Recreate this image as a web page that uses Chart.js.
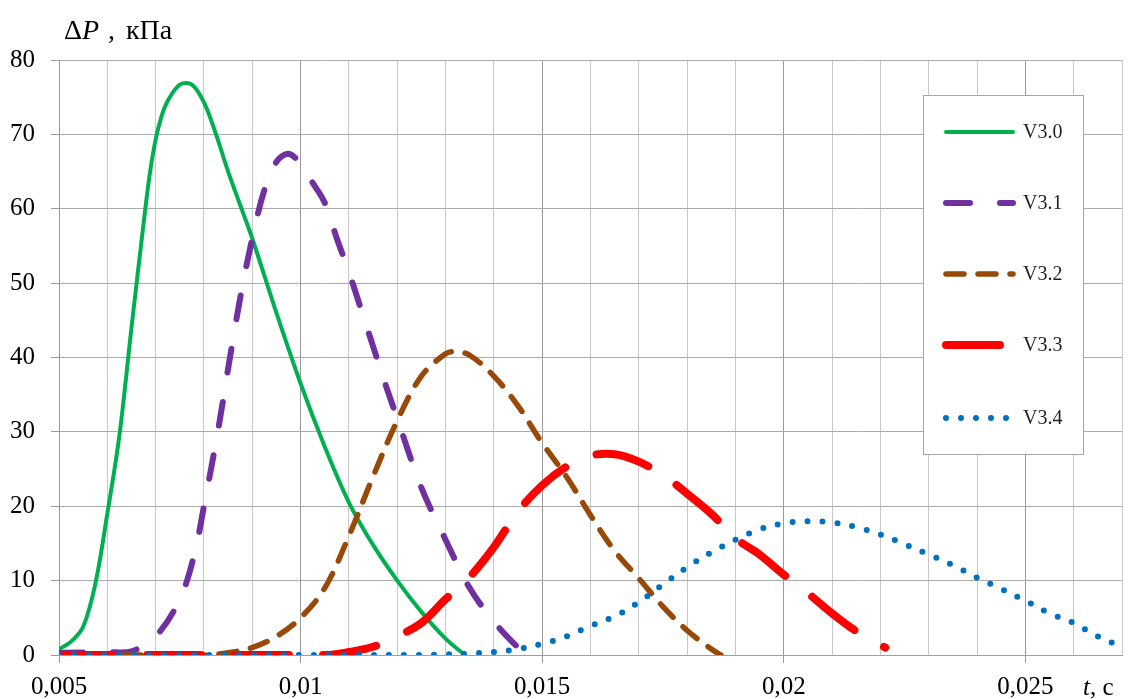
<!DOCTYPE html>
<html>
<head>
<meta charset="utf-8">
<title>ΔP(t)</title>
<script src="https://cdn.jsdelivr.net/npm/chart.js@4.4.1/dist/chart.umd.min.js"></script>
<style>
    html, body { margin: 0; padding: 0; background: #ffffff; }
    #wrap { width: 1131px; height: 699px; }
</style>
</head>
<body>
<div id="wrap"><canvas id="pressure-chart" width="1131" height="699"></canvas></div>
<script>
// ---- Data: pressure pulse ΔP (kPa) over time t (s) ----
const seriesNames = ['V3.0', 'V3.1', 'V3.2', 'V3.3', 'V3.4'];

const v30Time = [0.005, 0.00525, 0.0055, 0.00575, 0.006, 0.00625, 0.0065, 0.00675, 0.006875, 0.007, 0.007125, 0.00725, 0.0075, 0.00775, 0.008, 0.00825, 0.0085, 0.00875, 0.009, 0.0095, 0.01, 0.0105, 0.011, 0.0115, 0.012, 0.0125, 0.013, 0.0134];
const v30Press = [0.8, 1.8, 3.8, 9.5, 19, 29.5, 44, 58, 64.5, 69.3, 72.5, 74.5, 76.7, 76.7, 74.3, 70, 65, 60.5, 56, 46, 36.5, 28, 20.5, 14.8, 10, 5.8, 2.2, 0];

const v31Time = [0.005, 0.006, 0.0065, 0.007, 0.0075, 0.0078, 0.008, 0.0083, 0.0085, 0.00875, 0.009, 0.00925, 0.0095, 0.00975, 0.01, 0.01025, 0.0105, 0.01075, 0.011, 0.01125, 0.0115, 0.01175, 0.012, 0.0125, 0.013, 0.0135, 0.014, 0.0145, 0.0147];
const v31Press = [0.3, 0.4, 0.5, 2.5, 7.5, 13.5, 20, 30.5, 38.5, 48, 56, 62.5, 66.3, 67.4, 66, 63.5, 60.8, 56, 51.5, 46.5, 41.5, 36.5, 31.8, 22.5, 15.5, 9, 4.5, 1, 0];

const v32Time = [0.005, 0.008, 0.0085, 0.009, 0.0095, 0.01, 0.0105, 0.011, 0.0115, 0.012, 0.0125, 0.013, 0.0132, 0.0135, 0.014, 0.0145, 0.015, 0.0155, 0.016, 0.0165, 0.017, 0.0175, 0.018, 0.0185, 0.0187];
const v32Press = [0, 0, 0.3, 1, 2.5, 5, 9, 16, 24, 31.5, 37.5, 40.5, 40.8, 40.3, 37.5, 33.5, 28.5, 24, 18.8, 14, 10.3, 6.5, 3.3, 0.8, 0];

const v33Time = [0.005, 0.0105, 0.011, 0.0115, 0.012, 0.0125, 0.013, 0.0135, 0.014, 0.0145, 0.015, 0.0155, 0.016, 0.0165, 0.017, 0.0175, 0.018, 0.0185, 0.019, 0.0195, 0.02, 0.0205, 0.021, 0.0215, 0.0221];
const v33Press = [0, 0, 0.4, 1.1, 2.5, 4.3, 7.5, 10.5, 14.5, 19.3, 22.8, 25.3, 26.8, 27, 26, 24.2, 21.7, 19, 15.7, 13.5, 10.8, 8.3, 5.6, 3.2, 1.0];

const v34Time = [0.005, 0.0125, 0.013, 0.0135, 0.014, 0.0145, 0.015, 0.0155, 0.016, 0.0165, 0.017, 0.0175, 0.018, 0.0185, 0.019, 0.0195, 0.02, 0.0205, 0.021, 0.0215, 0.022, 0.0225, 0.023, 0.0235, 0.024, 0.0245, 0.025, 0.0255, 0.026, 0.0265, 0.027];
const v34Press = [0, 0, 0.1, 0.2, 0.4, 0.8, 1.5, 2.5, 3.9, 5.2, 7.1, 9.5, 11.8, 13.8, 15.5, 16.9, 17.7, 18, 17.8, 17.2, 16.2, 14.9, 13.5, 12.1, 10.4, 8.9, 7.3, 5.6, 4.3, 2.5, 1.1];

// Axis ticks
const xTickValues = [0.005, 0.01, 0.015, 0.02, 0.025];
const xTickLabels = ['0,005', '0,01', '0,015', '0,02', '0,025'];
const yTickValues = [0, 10, 20, 30, 40, 50, 60, 70, 80];

// ---- Helpers ----
function toPoints(times, values) {
    return times.map(function (t, i) {
        return { x: t, y: values[i] };
    });
}

function majorIndex(value) {
    for (let i = 0; i < xTickValues.length; i++) {
        if (Math.abs(value - xTickValues[i]) < 1e-9) return i;
    }
    return -1;
}

const SERIF = '"Liberation Serif", "Times New Roman", serif';

// ---- Series styles ----
const styles = [
    { color: '#00b050', width: 4,   dash: [] },
    { color: '#7030a0', width: 6,   dash: [24, 30] },
    { color: '#984807', width: 5.5, dash: [18, 14] },
    { color: '#ff0000', width: 8,   dash: [54, 34] },
    { color: '#0070c0', width: 6,   dash: [0, 15] }
];

const seriesData = [
    toPoints(v30Time, v30Press),
    toPoints(v31Time, v31Press),
    toPoints(v32Time, v32Press),
    toPoints(v33Time, v33Press),
    toPoints(v34Time, v34Press)
];

const datasets = seriesNames.map(function (name, i) {
    return {
        label: name,
        data: seriesData[i],
        borderColor: styles[i].color,
        backgroundColor: styles[i].color,
        borderWidth: styles[i].width,
        borderDash: styles[i].dash,
        borderCapStyle: 'round',
        borderJoinStyle: 'round',
        tension: 0.35,
        pointRadius: 0,
        fill: false,
        order: seriesNames.length - i   // later series drawn on top
    };
});

// ---- Axis titles and boxed legend ----
const decorPlugin = {
    id: 'decor',
    afterDatasetsDraw: function (chart) {
        const ctx = chart.ctx;
        ctx.save();

        // legend box
        const bx = 923.5, by = 95.5, bw = 160, bh = 359;
        ctx.fillStyle = '#ffffff';
        ctx.fillRect(bx, by, bw, bh);
        ctx.strokeStyle = '#a6a6a6';
        ctx.lineWidth = 1;
        ctx.strokeRect(bx, by, bw, bh);

        const rowY = [132, 203, 274, 345, 418];
        chart.data.datasets.forEach(function (ds, i) {
            const y = rowY[i];
            ctx.beginPath();
            ctx.strokeStyle = ds.borderColor;
            ctx.lineWidth = ds.borderWidth;
            ctx.lineCap = 'round';
            ctx.setLineDash(ds.borderDash);
            ctx.moveTo(946, y);
            ctx.lineTo(1013, y);
            ctx.stroke();
            ctx.setLineDash([]);

            ctx.fillStyle = '#1f1f1f';
            ctx.font = '20px ' + SERIF;
            ctx.textAlign = 'left';
            ctx.textBaseline = 'middle';
            ctx.fillText(ds.label, 1023, y + 1);
        });

        // y title: ΔP , кПа
        ctx.fillStyle = '#000000';
        ctx.textBaseline = 'alphabetic';
        ctx.textAlign = 'left';
        ctx.font = '28px ' + SERIF;
        ctx.fillText('Δ', 64, 39);
        let x = 64 + ctx.measureText('Δ').width;
        ctx.font = 'italic 28px ' + SERIF;
        ctx.fillText('P', x, 39);
        ctx.font = '28px ' + SERIF;
        ctx.fillText(',', 108, 39);
        ctx.fillText('кПа', 126, 39);

        // x title: t, c
        x = 1083;
        ctx.font = 'italic 25px ' + SERIF;
        ctx.fillText('t', x, 695);
        x += ctx.measureText('t').width;
        ctx.font = '25px ' + SERIF;
        ctx.fillText(', c', x, 695);

        ctx.restore();
    }
};

// ---- Chart ----
const canvas = document.getElementById('pressure-chart');
new Chart(canvas.getContext('2d'), {
    type: 'line',
    data: { datasets: datasets },
    plugins: [decorPlugin],
    options: {
        responsive: false,
        animation: false,
        devicePixelRatio: 1,
        layout: { padding: { top: 60, right: 9, left: 0, bottom: 0 } },
        plugins: {
            legend: { display: false },
            tooltip: { enabled: false }
        },
        scales: {
            x: {
                type: 'linear',
                min: 0.005,
                max: 0.027,
                afterFit: function (scale) { scale.height = 44; },
                ticks: {
                    stepSize: 0.001,
                    autoSkip: false,
                    maxRotation: 0,
                    padding: 9,
                    color: '#000000',
                    font: { family: SERIF, size: 25 },
                    callback: function (value) {
                        const i = majorIndex(value);
                        return i >= 0 ? xTickLabels[i] : '';
                    }
                },
                grid: {
                    lineWidth: 1,
                    tickLength: 8,
                    color: function (ctx) {
                        return ctx.tick && majorIndex(ctx.tick.value) >= 0 ? '#9a9a9a' : '#c8c8c8';
                    },
                    tickColor: function (ctx) {
                        return ctx.tick && majorIndex(ctx.tick.value) >= 0 ? '#9a9a9a' : 'rgba(0,0,0,0)';
                    }
                },
                border: { color: '#a0a0a0' }
            },
            y: {
                type: 'linear',
                min: 0,
                max: 80,
                afterFit: function (scale) { scale.width = 59; },
                afterBuildTicks: function (scale) {
                    scale.ticks = yTickValues.map(function (v) { return { value: v }; });
                },
                ticks: {
                    padding: 16,
                    color: '#000000',
                    font: { family: SERIF, size: 25 },
                    callback: function (value) { return String(value); }
                },
                grid: {
                    lineWidth: 1,
                    tickLength: 8,
                    color: '#ababab',
                    tickColor: '#9a9a9a'
                },
                border: { color: '#9a9a9a' }
            }
        }
    }
});
</script>
</body>
</html>
